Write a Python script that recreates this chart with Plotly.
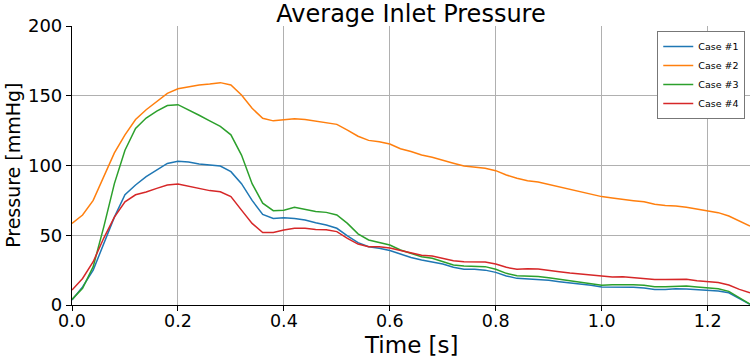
import plotly.graph_objects as go

time_s = [round(i * 0.02, 2) for i in range(65)]

case1 = [3.6, 13, 25, 44, 63, 79, 86, 92, 97, 101.5,
         103, 102.5, 101, 100.4, 99.6, 95.6, 87, 75, 65, 62,
         62.6, 62, 61, 59, 57.3, 55, 49.5, 44.7, 41.8, 40.6,
         39, 36.6, 34, 32.3, 31, 29.4, 27, 25.6, 25.6, 25,
         23.4, 20.8, 19.1, 18.6, 18.4, 17.7, 16.7, 16, 15.3, 14.1,
         12.9, 12.9, 13.1, 12.7, 12.2, 11.2, 11.2, 11.7, 11.5, 11,
         10.5, 10, 8.8, 4.8, 0.5]

case2 = [58.5, 64.5, 75, 92, 109, 122, 133, 140, 146, 151.7,
         155, 156.5, 157.7, 158.4, 159.4, 157.7, 150.5, 141, 133.8, 132,
         133, 133.6, 133, 132, 131, 129.5, 125.4, 121, 118, 117,
         115.4, 112, 110, 107.5, 105.9, 104, 101.6, 99.6, 98.7, 98,
         96.3, 93.2, 90.8, 89, 88.2, 86.5, 84.6, 82.9, 81.2, 79.3,
         77.7, 76.7, 76, 74.8, 74, 72.2, 71.4, 71, 70, 68.6,
         67.4, 66.2, 63.8, 60.2, 56.6]

case3 = [4, 12, 27.5, 56, 87, 111, 126.6, 134, 139, 143,
         143.6, 140, 136, 132, 128, 122, 107.5, 87, 73, 67.6,
         68, 70, 68.6, 67, 66.4, 64.5, 58.5, 51, 46.6, 45,
         43, 39.4, 37, 34.6, 33.5, 31, 28.7, 28, 28, 27.5,
         25.6, 22.7, 21, 20.8, 20.5, 19.6, 18.4, 17.4, 16.5, 15.3,
         14.1, 14.6, 14.8, 14.6, 14.1, 13.1, 13.1, 13.6, 13.6, 12.9,
         12.4, 11.7, 9.8, 5.3, 0.7]

case4 = [10.7, 19, 31, 48, 63, 74, 79, 81, 83.6, 86,
         86.7, 85.3, 83.4, 82, 81.2, 77.7, 68, 58.5, 52, 52,
         53.8, 55, 55, 54.2, 54, 52.6, 47.8, 43.7, 41.8, 41.8,
         40.9, 39, 37.2, 35.6, 35.1, 33.5, 31.8, 31, 31, 30.8,
         29.4, 27, 25.6, 26, 25.8, 25.1, 23.9, 22.9, 22.2, 21.3,
         20.3, 20, 20.3, 19.6, 19.1, 18.2, 18.2, 18.4, 18.4, 17.4,
         16.7, 16.2, 14.3, 11.2, 8.8]

series_names = ["Case #1", "Case #2", "Case #3", "Case #4"]
series_values = [case1, case2, case3, case4]
colors = ["#1f77b4", "#ff7f0e", "#2ca02c", "#d62728"]

x_ticks = [0.0, 0.2, 0.4, 0.6, 0.8, 1.0, 1.2]
x_tick_labels = ["0.0", "0.2", "0.4", "0.6", "0.8", "1.0", "1.2"]
y_ticks = [0, 50, 100, 150, 200]

title_text = "Average Inlet Pressure"
x_title = "Time [s]"
y_title = "Pressure [mmHg]"

FONT = "DejaVu Sans, sans-serif"

fig = go.Figure()
for name, vals, c in zip(series_names, series_values, colors):
    fig.add_trace(go.Scatter(x=time_s, y=vals, mode="lines", name=name,
                             line=dict(color=c, width=1.5)))

fig.update_layout(
    width=750, height=359,
    margin=dict(l=72, r=0, t=26, b=54, autoexpand=False),
    paper_bgcolor="white", plot_bgcolor="white",
    font=dict(family=FONT, color="black"),
    title=dict(text=title_text, x=0.548, xanchor="center",
               y=1 - 13.5 / 359, yanchor="middle", font=dict(size=24, family=FONT)),
    showlegend=True,
    legend=dict(x=0.993, y=0.982, xanchor="right", yanchor="top",
                bgcolor="white", bordercolor="#777777", borderwidth=1,
                font=dict(size=9.5, family=FONT),
                itemwidth=30, tracegroupgap=0),
    annotations=[
        dict(text=x_title, xref="paper", yref="paper", x=0.5, y=-0.142,
             xanchor="center", yanchor="middle", showarrow=False,
             font=dict(size=23, family=FONT)),
        dict(text=y_title, xref="paper", yref="paper", x=-0.088, y=0.5,
             xanchor="center", yanchor="middle", showarrow=False, textangle=-90,
             font=dict(size=19, family=FONT)),
    ],
)
fig.update_xaxes(range=[0, 1.28], tickvals=x_ticks, ticktext=x_tick_labels,
                 showgrid=True, gridcolor="#b0b0b0", gridwidth=0.8,
                 showline=True, linecolor="black", linewidth=1.2,
                 ticks="outside", ticklen=5, tickcolor="black",
                 tickfont=dict(size=17.5, family=FONT), zeroline=False,
                 ticklabelstandoff=-5, automargin=False)
fig.update_yaxes(range=[0, 200], tickvals=y_ticks,
                 showgrid=True, gridcolor="#b0b0b0", gridwidth=0.8,
                 showline=True, linecolor="black", linewidth=1.2,
                 ticks="outside", ticklen=5, tickcolor="black",
                 tickfont=dict(size=18, family=FONT), zeroline=False,
                 automargin=False)

fig.write_html("out.html", config={"displayModeBar": False},
               post_script="document.body.style.margin='0';")
